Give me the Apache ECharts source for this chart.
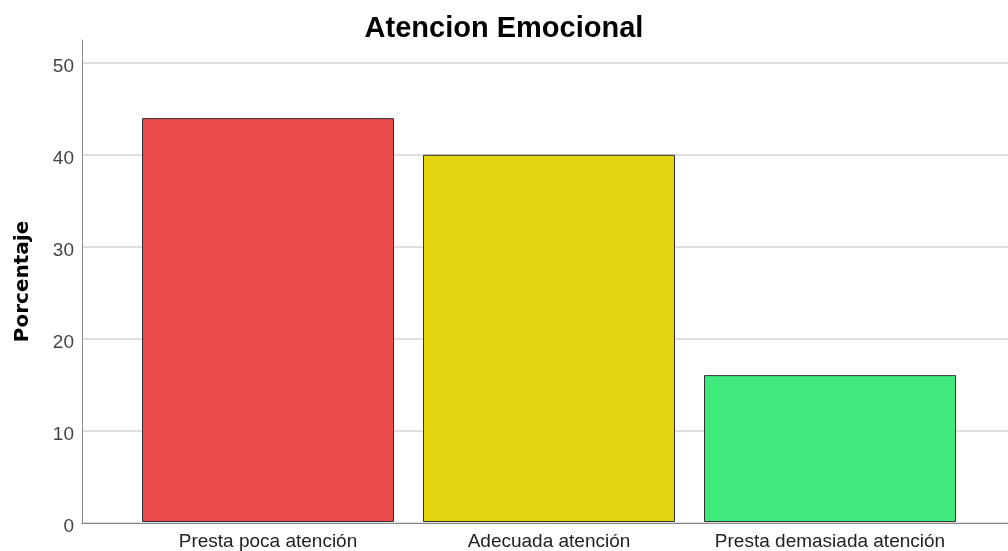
<!DOCTYPE html>
<html><head><meta charset="utf-8">
<script src="https://cdn.jsdelivr.net/npm/echarts@6/dist/echarts.min.js"></script>
<style>html,body{margin:0;padding:0;background:#fff}#c{width:1008px;height:551px}</style>
</head><body><div id="c"></div>
<script>
var title = 'Atencion Emocional';
var categories = ['Presta poca atención', 'Adecuada atención', 'Presta demasiada atención'];
var values = [44, 40, 16];
var colors = ['#ec4b4c', '#e2d510', '#40e97c'];
var yTicks = {min: 0, max: 50, interval: 10};
var yName = 'Porcentaje';

var chart = echarts.init(document.getElementById('c'));
var font = 'Arial, "Liberation Sans", sans-serif';
chart.setOption({
  animation: false,
  title: {text: title, left: 'center', top: 9, textStyle: {fontFamily: font, fontSize: 29, fontWeight: 'bold', color: '#000'}},
  grid: [
    {left: 82, right: 0, top: 40, bottom: 28},
    {left: 82, right: 0, top: 63, bottom: 28},
    {left: 127.5, right: 37.5, top: 63, bottom: 28}
  ],
  xAxis: [
    {gridIndex: 0, type: 'value', min: 0, max: 1, axisLine: {show: true, onZero: false, lineStyle: {color: '#888', width: 1}}, axisTick: {show: false}, axisLabel: {show: false}, splitLine: {show: false}},
    {gridIndex: 1, type: 'value', min: 0, max: 1, show: false},
    {gridIndex: 2, type: 'category', data: categories, axisLine: {show: false}, axisTick: {show: false},
     axisLabel: {interval: 0, hideOverlap: false, margin: 10, fontFamily: font, fontSize: 19, color: '#222'}}
  ],
  yAxis: [
    {gridIndex: 0, type: 'value', min: 0, max: 1, name: yName, nameLocation: 'middle', nameGap: 49, nameRotate: 90,
     nameTextStyle: {fontFamily: '"DejaVu Sans", sans-serif', fontSize: 20, fontWeight: 'bold', color: '#000'},
     axisLine: {show: true, lineStyle: {color: '#888', width: 1}}, axisTick: {show: false}, axisLabel: {show: false}, splitLine: {show: false}},
    {gridIndex: 1, type: 'value', min: yTicks.min, max: yTicks.max, interval: yTicks.interval,
     axisLine: {show: false}, axisTick: {show: false},
     axisLabel: {margin: 8, verticalAlign: 'top', lineHeight: 7, fontFamily: font, fontSize: 19, color: '#444'},
     splitLine: {show: true, lineStyle: {color: '#d4d4d4', width: 1.5}}},
    {gridIndex: 2, type: 'value', min: yTicks.min, max: yTicks.max, show: false}
  ],
  series: [{
    type: 'bar', xAxisIndex: 2, yAxisIndex: 2, barWidth: 252,
    data: values.map(function (v, i) { return {value: v, itemStyle: {color: colors[i]}}; }),
    itemStyle: {borderColor: '#333', borderWidth: 1}
  }]
});
</script></body></html>
